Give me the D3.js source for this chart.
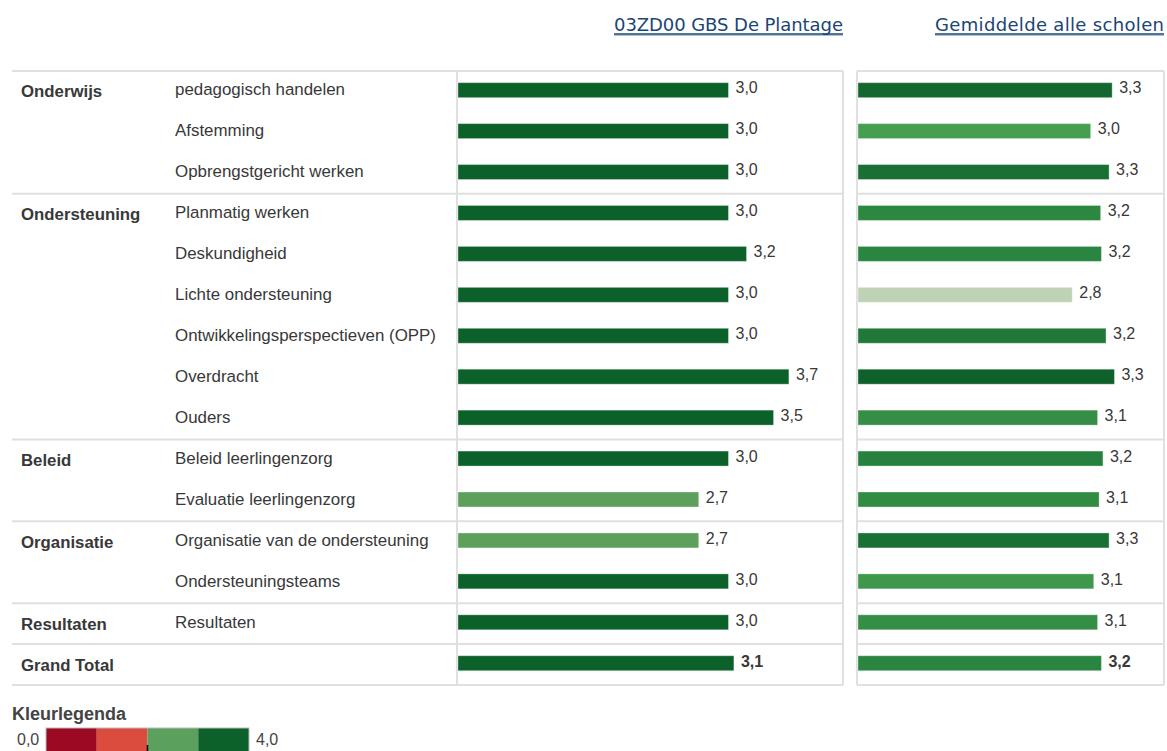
<!DOCTYPE html>
<html>
<head>
<meta charset="utf-8">
<script src="https://cdnjs.cloudflare.com/ajax/libs/d3/7.8.5/d3.min.js"></script>
<style>
  html, body { margin: 0; padding: 0; background: #fff; }
  svg { display: block; }
</style>
</head>
<body>
<svg id="chart" width="1167" height="751"></svg>
<script>
// ---- data ----
const panelTitles = ["03ZD00 GBS De Plantage", "Gemiddelde alle scholen"];
const groups = ["Onderwijs", "Ondersteuning", "Beleid", "Organisatie", "Resultaten", "Grand Total"];
const groupSizes = [3, 6, 2, 2, 1, 1];
const categories = [
  "pedagogisch handelen", "Afstemming", "Opbrengstgericht werken",
  "Planmatig werken", "Deskundigheid", "Lichte ondersteuning",
  "Ontwikkelingsperspectieven (OPP)", "Overdracht", "Ouders",
  "Beleid leerlingenzorg", "Evaluatie leerlingenzorg",
  "Organisatie van de ondersteuning", "Ondersteuningsteams",
  "Resultaten", ""
];
const schoolValues  = [3.0, 3.0, 3.0, 3.0, 3.2, 3.0, 3.0, 3.67, 3.5, 3.0, 2.67, 2.67, 3.0, 3.0, 3.06];
const averageValues = [3.31, 3.03, 3.27, 3.16, 3.17, 2.79, 3.23, 3.34, 3.12, 3.19, 3.14, 3.27, 3.07, 3.12, 3.17];
const legendMin = "0,0", legendMax = "4,0";
const legendSteps = [0, 1, 2, 3];

(function () {
const svg = d3.select("#chart");
const FONT = "'Liberation Sans', Arial, sans-serif";
const yTop = 71, yBottom = 685;
const rows = categories.map((c, i) => i);
const y = d3.scaleBand().domain(rows).range([yTop, yBottom]).padding(0);
const rowH = y.bandwidth();

const panels = [
  { x0: 457, x1: 843, values: schoolValues, max: 4.27,
    color: d3.scaleLinear().domain([2.67, 3.0]).range(["#5ca05c", "#0b6129"]).clamp(true) },
  { x0: 857, x1: 1164, values: averageValues, max: 3.985,
    color: d3.scaleLinear().domain([2.79, 3.03, 3.17, 3.35])
      .range(["#bed3b5", "#469f50", "#2a8540", "#0c5f2a"]).clamp(true) }
];
const fmt = v => d3.format(".1f")(v).replace(".", ",");

const lineColor = "#e0e0e0";
const textColor = "#383838";

const groupStarts = [];
let acc = 0;
groupSizes.forEach(s => { groupStarts.push(acc); acc += s; });
const boundaries = groupStarts.map(s => y(s)).concat([yBottom]);

boundaries.forEach(by => {
  svg.append("line").attr("x1", 12).attr("x2", 843).attr("y1", by).attr("y2", by)
    .attr("stroke", lineColor).attr("stroke-width", 2);
  svg.append("line").attr("x1", 857).attr("x2", 1164).attr("y1", by).attr("y2", by)
    .attr("stroke", lineColor).attr("stroke-width", 2);
});
[457, 843, 857, 1164].forEach(vx => {
  svg.append("line").attr("x1", vx).attr("x2", vx).attr("y1", yTop).attr("y2", yBottom)
    .attr("stroke", lineColor).attr("stroke-width", 2);
});

groups.forEach((g, i) => {
  svg.append("text").attr("x", 21).attr("y", y(groupStarts[i]) + rowH / 2 + 6)
    .attr("font-family", FONT).attr("font-size", 16.8)
    .attr("font-weight", "bold").attr("fill", textColor).text(g);
});
categories.forEach((c, i) => {
  svg.append("text").attr("x", 175).attr("y", y(i) + rowH / 2 + 4)
    .attr("font-family", FONT).attr("font-size", 16.9)
    .attr("fill", textColor).text(c);
});

panels.forEach((p, pi) => {
  const x = d3.scaleLinear().domain([0, p.max]).range([p.x0 + 1, p.x1]);
  const g = svg.append("g");
  g.selectAll("rect").data(p.values).join("rect")
    .attr("x", x(0))
    .attr("y", (d, i) => y(i) + rowH / 2 - 8.8)
    .attr("width", d => x(d) - x(0))
    .attr("height", 15)
    .attr("fill", d => p.color(d))
    .attr("stroke", "rgba(255,255,255,0.35)").attr("stroke-width", 1);
  g.selectAll("text").data(p.values).join("text")
    .attr("x", d => x(d) + 7)
    .attr("y", (d, i) => y(i) + rowH / 2 + 2)
    .attr("font-family", FONT).attr("font-size", 16)
    .attr("font-weight", (d, i) => i === p.values.length - 1 ? "bold" : "normal")
    .attr("fill", textColor).text(d => fmt(d));

  const titleW = 229;
  svg.append("text").attr("x", p.x1 - titleW).attr("y", 31)
    .attr("font-family", "'DejaVu Sans', sans-serif")
    .attr("textLength", titleW).attr("lengthAdjust", "spacing")
    .attr("font-size", 18).attr("fill", "#1a4574").text(panelTitles[pi]);
  svg.append("line").attr("x1", p.x1 - titleW).attr("x2", p.x1).attr("y1", 35.5).attr("y2", 35.5)
    .attr("stroke", "#a9bfd3").attr("stroke-width", 1);
  svg.append("line").attr("x1", p.x1 - titleW).attr("x2", p.x1).attr("y1", 34).attr("y2", 34)
    .attr("stroke", "#1a4574").attr("stroke-width", 1.6);
});

svg.append("text").attr("x", 12).attr("y", 720)
  .attr("font-family", FONT).attr("font-size", 18)
  .attr("font-weight", "bold").attr("fill", "#444").text("Kleurlegenda");
const legendColor = d3.scaleOrdinal().domain(legendSteps).range(["#9b0a22", "#dc4c3e", "#5ba05d", "#0b6129"]);
const lx = d3.scaleBand().domain(legendSteps).range([46, 249]);
svg.append("g").selectAll("rect").data(legendSteps).join("rect")
  .attr("x", d => lx(d)).attr("y", 728).attr("width", lx.bandwidth()).attr("height", 30)
  .attr("fill", d => legendColor(d));
svg.append("rect").attr("x", 46).attr("y", 728).attr("width", 203).attr("height", 30)
  .attr("fill", "none").attr("stroke", "#bbb").attr("stroke-width", 1);
svg.append("line").attr("x1", lx(2)).attr("x2", lx(2)).attr("y1", 745).attr("y2", 751)
  .attr("stroke", "#000").attr("stroke-width", 1.5);
svg.append("text").attr("x", 17).attr("y", 745)
  .attr("font-family", FONT).attr("font-size", 16)
  .attr("fill", "#444").text(legendMin);
svg.append("text").attr("x", 256).attr("y", 745)
  .attr("font-family", FONT).attr("font-size", 16)
  .attr("fill", "#444").text(legendMax);
})();
</script>
</body>
</html>
